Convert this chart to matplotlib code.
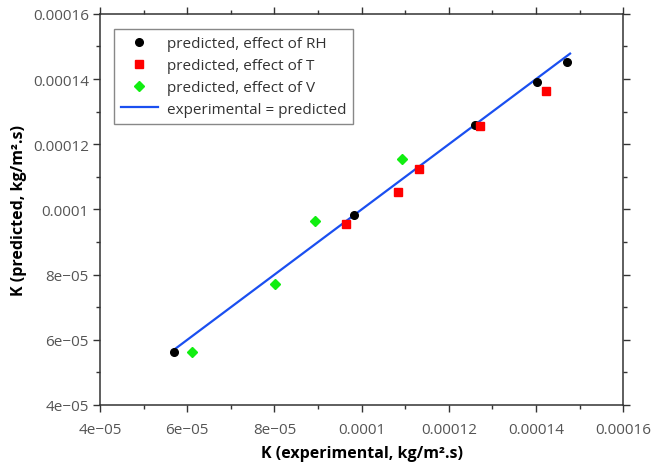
import matplotlib
matplotlib.use('Agg')
from matplotlib import pyplot as plt
from matplotlib.ticker import MultipleLocator, FuncFormatter

plt.rcParams['font.family'] = ['Open Sans', 'DejaVu Sans']

# data
rh_x = [5.70e-5, 9.83e-5, 12.61e-5, 14.03e-5, 14.71e-5]
rh_y = [5.64e-5, 9.83e-5, 12.60e-5, 13.91e-5, 14.52e-5]
t_x = [9.63e-5, 10.83e-5, 11.32e-5, 12.72e-5, 14.23e-5]
t_y = [9.56e-5, 10.53e-5, 11.25e-5, 12.57e-5, 13.64e-5]
v_x = [6.12e-5, 8.02e-5, 8.92e-5, 10.92e-5]
v_y = [5.62e-5, 7.70e-5, 9.66e-5, 11.56e-5]
line_x = [5.70e-5, 14.78e-5]

fig = plt.figure(figsize=(6.54, 4.64), dpi=100)
ax = fig.add_axes([0.153, 0.125, 0.8, 0.843])

ax.plot(rh_x, rh_y, 'o', color='black', markersize=5.5, label='predicted, effect of RH', zorder=3)
ax.plot(t_x, t_y, 's', color='#ff0000', markersize=5.5, label='predicted, effect of T', zorder=3)
ax.plot(v_x, v_y, 'D', color='#11ee11', markersize=5, label='predicted, effect of V', zorder=3)
ax.plot(line_x, line_x, '-', color='#1a4ff0', linewidth=1.6, label='experimental = predicted', zorder=2)

ax.set_xlim(4e-5, 16e-5)
ax.set_ylim(4e-5, 16e-5)
fmt = FuncFormatter(lambda v, p: ('%g' % v).replace('-', '\u2212'))
for a in (ax.xaxis, ax.yaxis):
    a.set_major_locator(MultipleLocator(2e-5))
    a.set_minor_locator(MultipleLocator(1e-5))
    a.set_major_formatter(fmt)
ax.tick_params(which='both', direction='out', top=True, right=True,
               colors='#333333', labelcolor='#555555', labelsize=11, width=1)
ax.tick_params(which='major', length=5, pad=3)
ax.tick_params(which='minor', length=3)
ax.tick_params(axis='x', which='major', pad=7)
ax.tick_params(top=True, right=True, labeltop=False, labelright=False)
for s in ax.spines.values():
    s.set_color('#333333')
    s.set_linewidth(1.1)

ax.set_xlabel('K (experimental, kg/m\u00b2.s)', fontweight='bold', fontsize=11.5, labelpad=6)
ax.set_ylabel('K (predicted, kg/m\u00b2.s)', fontweight='bold', fontsize=11.5, labelpad=4)

leg = ax.legend(loc='upper left', bbox_to_anchor=(0.012, 0.98), fontsize=11,
                fancybox=False, edgecolor='#888888', framealpha=1,
                handlelength=2.4, handletextpad=0.6, borderpad=0.45, labelspacing=0.45)
for t in leg.get_texts():
    t.set_color('#333333')
leg.get_frame().set_linewidth(1)

fig.savefig('out.png', dpi=100)
